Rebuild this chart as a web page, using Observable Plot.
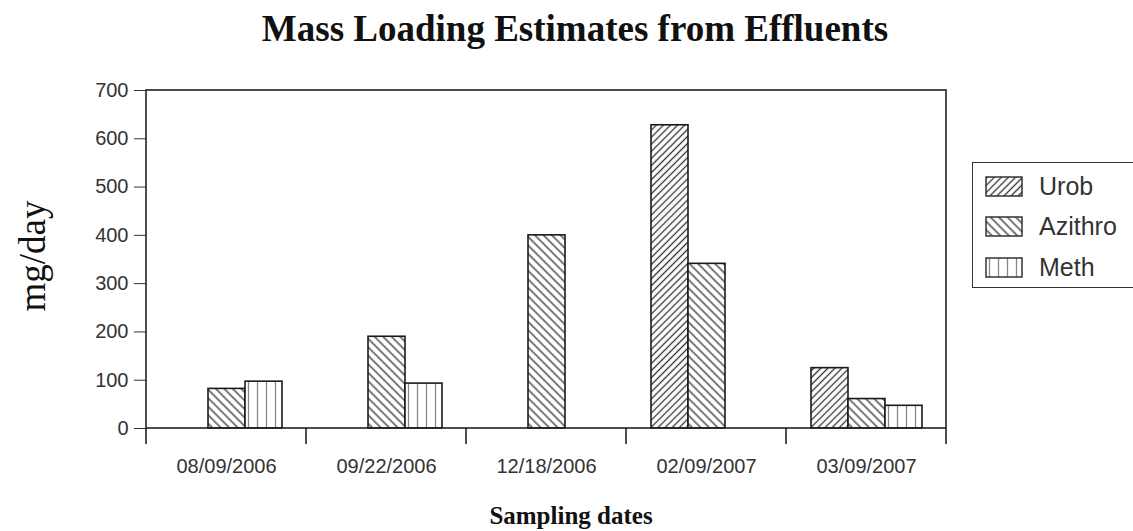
<!DOCTYPE html>
<html>
<head>
<meta charset="utf-8">
<script src="https://cdn.jsdelivr.net/npm/d3@7"></script>
<script src="https://cdn.jsdelivr.net/npm/@observablehq/plot@0.6"></script>
<style>
  body { margin: 0; background: #fff; }
  #wrap { position: relative; width: 1133px; height: 531px; overflow: hidden; background: #fff; }
  #chart { position: absolute; left: 0; top: 0; }
  #title { position: absolute; left: 0; top: 7px; width: 1150px; text-align: center;
           font: bold 37px "Liberation Serif", "Times New Roman", serif; color: #111; white-space: nowrap; }
  #ylabel { position: absolute; left: 32px; top: 256px; transform: translate(-50%, -50%) rotate(-90deg);
            font: 37px "Liberation Serif", "Times New Roman", serif; color: #111; white-space: nowrap; }
  #xlabel { position: absolute; left: 0; top: 502px; width: 1142px; text-align: center;
            font: bold 25px "Liberation Serif", "Times New Roman", serif; color: #111; white-space: nowrap; }
  #legend { position: absolute; left: 972px; top: 162px; width: 180px; height: 126px;
            border: 1.5px solid #333; box-sizing: border-box; padding-top: 3px; background: #fff; }
  .row { height: 40.5px; display: flex; align-items: center; padding-left: 12px; }
  .row span { margin-left: 16px; font: 25px "Liberation Sans", Arial, sans-serif; color: #333; }
</style>
</head>
<body>
<svg width="0" height="0" style="position:absolute">
  <defs>
    <pattern id="hatch-urob" patternUnits="userSpaceOnUse" width="5" height="5" patternTransform="rotate(45)">
      <rect width="5" height="5" fill="#fff"/>
      <line x1="2.5" y1="0" x2="2.5" y2="5" stroke="#333" stroke-width="1.3"/>
    </pattern>
    <pattern id="hatch-azithro" patternUnits="userSpaceOnUse" width="6" height="6" patternTransform="rotate(-45)">
      <rect width="6" height="6" fill="#fff"/>
      <line x1="3" y1="0" x2="3" y2="6" stroke="#333" stroke-width="1.3"/>
    </pattern>
    <pattern id="hatch-meth" patternUnits="userSpaceOnUse" width="9" height="9">
      <rect width="9" height="9" fill="#fff"/>
      <line x1="4.5" y1="0" x2="4.5" y2="9" stroke="#888" stroke-width="1.3"/>
    </pattern>
  </defs>
</svg>
<div id="wrap">
  <div id="chart"></div>
  <div id="title">Mass Loading Estimates from Effluents</div>
  <div id="ylabel">mg/day</div>
  <div id="xlabel">Sampling dates</div>
  <div id="legend"></div>
</div>
<script>
// ---- data ----
const dates = ["08/09/2006", "09/22/2006", "12/18/2006", "02/09/2007", "03/09/2007"];
const series = ["Urob", "Azithro", "Meth"];
const urob = [null, null, null, 628, 125];
const azithro = [82, 190, 400, 341, 61];
const meth = [97, 93, null, null, 47];
const yTicks = [0, 100, 200, 300, 400, 500, 600, 700];
const patternIds = ["hatch-urob", "hatch-azithro", "hatch-meth"];

const valuesBySeries = {Urob: urob, Azithro: azithro, Meth: meth};
const data = [];
dates.forEach((d, i) => series.forEach(s => {
  const v = valuesBySeries[s][i];
  if (v != null) data.push({date: d, series: s, value: v});
}));

const plot = Plot.plot({
  width: 1133,
  height: 531,
  marginLeft: 145,
  marginRight: 186,
  marginTop: 90,
  marginBottom: 103,
  style: {fontFamily: "'Liberation Sans', Arial, sans-serif", fontSize: "20px", color: "#333", background: "transparent"},
  facet: {data, x: "date"},
  fx: {domain: dates, padding: 0, axis: "bottom", label: null, tickSize: 0, tickPadding: 30},
  x: {domain: series, paddingInner: 0, paddingOuter: 0.66, axis: null},
  y: {domain: [0, 700], ticks: yTicks, tickSize: 12, tickPadding: 6, label: null},
  color: {domain: series, range: patternIds.map(id => `url(#${id})`)},
  marks: [
    Plot.barY(data, {x: "series", y: "value", fill: "series", stroke: "#1a1a1a", strokeWidth: 1.6})
  ]
});
document.getElementById("chart").appendChild(plot);

// frame and band-boundary ticks, positioned from Plot's own scales
const fx = plot.scale("fx"), y = plot.scale("y");
const left = fx.apply(dates[0]);
const right = fx.apply(dates[dates.length - 1]) + fx.bandwidth;
const svg = d3.select(plot);
const g = svg.append("g").attr("fill", "none").attr("stroke", "#222").attr("stroke-width", 1.6);
g.append("rect")
  .attr("x", left).attr("y", y.apply(700))
  .attr("width", right - left).attr("height", y.apply(0) - y.apply(700));
const bounds = dates.map(d => fx.apply(d)).concat([right]);
g.selectAll("line.b").data(bounds).join("line")
  .attr("x1", d => d).attr("x2", d => d)
  .attr("y1", y.apply(0)).attr("y2", y.apply(0) + 16);

// legend
const legend = d3.select("#legend");
series.forEach((s, i) => {
  const row = legend.append("div").attr("class", "row");
  const sw = row.append("svg").attr("width", 38).attr("height", 21);
  sw.append("rect").attr("x", 1).attr("y", 1).attr("width", 36).attr("height", 19)
    .attr("fill", `url(#${patternIds[i]})`).attr("stroke", "#333").attr("stroke-width", 1.5);
  row.append("span").text(s);
});
</script>
</body>
</html>
